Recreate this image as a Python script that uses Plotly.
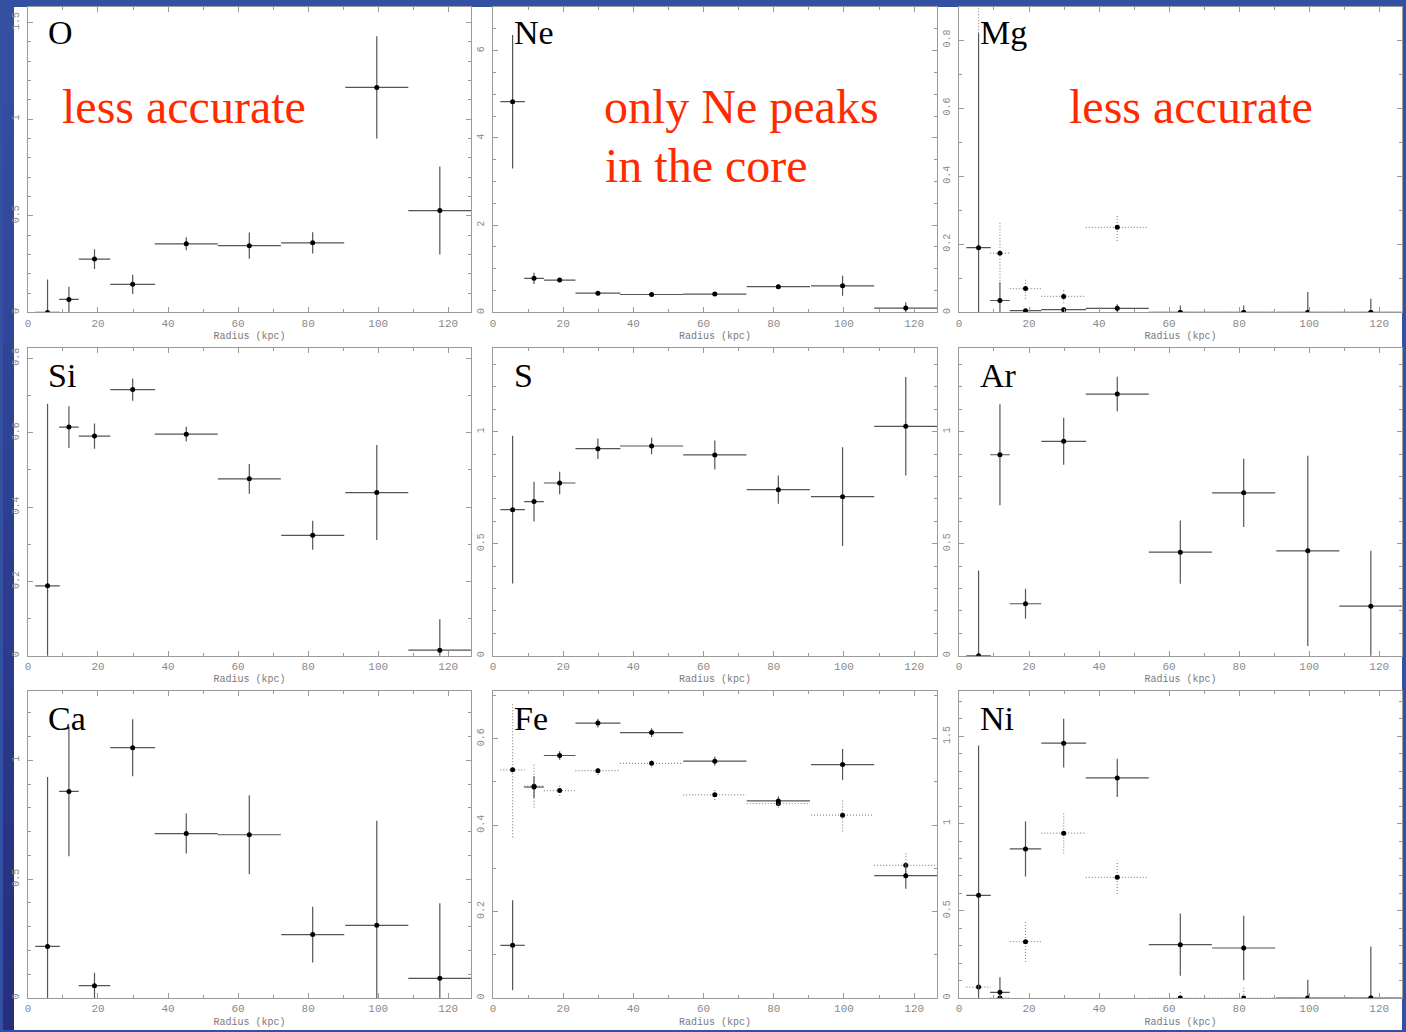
import plotly.graph_objects as go

# ---------------- data ----------------
radius = [5.6, 11.7, 19.0, 29.9, 45.2, 63.2, 81.3, 99.6, 117.6]
radius_halfwidth = [3.5, 2.8, 4.5, 6.4, 9.0, 9.0, 9.0, 9.0, 9.0]

O_val = [0.0, 0.067, 0.276, 0.145, 0.355, 0.345, 0.36, 1.164, 0.527]
O_err = [0.17, 0.066, 0.051, 0.05, 0.034, 0.068, 0.055, 0.265, 0.228]

Ne_val = [4.83, 0.78, 0.74, 0.44, 0.41, 0.42, 0.59, 0.61, 0.10]
Ne_err = [1.53, 0.13, 0.05, 0.04, 0.03, 0.04, 0.05, 0.23, 0.13]

Mg_val = [0.19, 0.035, 0.005, 0.008, 0.012, 0.0, 0.0, 0.0, 0.0]
Mg_err = [0.63, 0.053, 0.005, 0.008, 0.012, 0.02, 0.02, 0.06, 0.04]
Mg_alt_val = [1.30, 0.174, 0.07, 0.047, 0.25, 0.0, 0.0, 0.0, 0.0]
Mg_alt_err = [0.48, 0.09, 0.03, 0.02, 0.04, 0.0, 0.0, 0.0, 0.0]

Si_val = [0.188, 0.615, 0.591, 0.716, 0.596, 0.476, 0.324, 0.439, 0.015]
Si_err = [0.49, 0.056, 0.034, 0.03, 0.02, 0.04, 0.039, 0.128, 0.083]

S_val = [0.652, 0.688, 0.771, 0.924, 0.936, 0.896, 0.741, 0.710, 1.024]
S_err = [0.33, 0.089, 0.05, 0.046, 0.037, 0.065, 0.063, 0.22, 0.22]

Ar_val = [0.0, 0.897, 0.232, 0.957, 1.168, 0.462, 0.727, 0.468, 0.221]
Ar_err = [0.38, 0.225, 0.067, 0.105, 0.077, 0.141, 0.152, 0.425, 0.247]

Ca_val = [0.217, 0.869, 0.052, 1.053, 0.692, 0.687, 0.267, 0.306, 0.083]
Ca_err = [0.713, 0.273, 0.054, 0.12, 0.084, 0.166, 0.117, 0.44, 0.316]

Fe_val = [0.122, 0.488, 0.561, 0.636, 0.614, 0.548, 0.456, 0.540, 0.283]
Fe_err = [0.104, 0.025, 0.01, 0.01, 0.01, 0.01, 0.01, 0.036, 0.03]
Fe_alt_val = [0.528, 0.49, 0.480, 0.526, 0.543, 0.470, 0.450, 0.423, 0.307]
Fe_alt_err = [0.156, 0.05, 0.012, 0.01, 0.01, 0.012, 0.01, 0.038, 0.03]

Ni_val = [0.589, 0.033, 0.855, 1.461, 1.262, 0.306, 0.287, 0.0, 0.0]
Ni_err = [0.858, 0.086, 0.158, 0.14, 0.11, 0.178, 0.185, 0.105, 0.296]
Ni_alt_val = [0.063, 0.0, 0.323, 0.945, 0.692, 0.0, 0.0, 0.0, 0.0]
Ni_alt_err = [0.02, 0.0, 0.117, 0.117, 0.095, 0.04, 0.067, 0.0, 0.0]

x_ticks = [0, 20, 40, 60, 80, 100, 120]

# panel definitions: name, solid series, dotted series, y max, y major dtick, y minor dtick
panels = [
    ("O", (O_val, O_err), None, 1.58, 0.5, 0.1),
    ("Ne", (Ne_val, Ne_err), None, 7.0, 2, 0.5),
    ("Mg", (Mg_val, Mg_err), (Mg_alt_val, Mg_alt_err), 0.897, 0.2, 0.1),
    ("Si", (Si_val, Si_err), None, 0.827, 0.2, 0.1),
    ("S", (S_val, S_err), None, 1.372, 0.5, 0.1),
    ("Ar", (Ar_val, Ar_err), None, 1.372, 0.5, 0.1),
    ("Ca", (Ca_val, Ca_err), None, 1.293, 0.5, 0.1),
    ("Fe", (Fe_val, Fe_err), (Fe_alt_val, Fe_alt_err), 0.711, 0.2, 0.1),
    ("Ni", (Ni_val, Ni_err), (Ni_alt_val, Ni_alt_err), 1.762, 0.5, 0.1),
]

# ---------------- layout geometry (pixels) ----------------
W, H = 1406, 1032
col_px = [(25, 469), (491, 936), (958, 1402)]
row_px = [(7, 313), (349, 657), (692, 1000)]


def cross_segments(xc, xh, yv, ye):
    xs, ys = [], []
    for x, h, y, e in zip(xc, xh, yv, ye):
        xs += [x - h, x + h, None, x, x, None]
        ys += [y, y, None, y - e, y + e, None]
    return xs, ys


fig = go.Figure()
layout = {}
tick_font = dict(family="Liberation Mono, Courier New, monospace", size=11, color="#8a8a8a")

for i, (name, solid, dotted, ymax, ydt, ymin_dt) in enumerate(panels):
    r, c = divmod(i, 3)
    sid = "" if i == 0 else str(i + 1)
    xa, ya = "x" + sid, "y" + sid
    x0, x1 = col_px[c]
    yt, yb = row_px[r]
    layout["xaxis" + sid] = dict(
        domain=[x0 / W, x1 / W], anchor=ya, range=[0, 126.5],
        tickvals=x_ticks, ticks="inside", ticklen=5, tickcolor="#9a9a9a",
        minor=dict(ticks="inside", ticklen=3, dtick=10, tickcolor="#9a9a9a"),
        showline=True, linecolor="#9a9a9a", linewidth=1, mirror="ticks",
        showgrid=False, zeroline=False, tickfont=tick_font,
        title=dict(text="Radius (kpc)", standoff=3,
                   font=dict(family="Liberation Mono, Courier New, monospace", size=10, color="#7a7a7a")),
    )
    layout["yaxis" + sid] = dict(
        domain=[1 - yb / H, 1 - yt / H], anchor=xa, range=[0, ymax],
        dtick=ydt, tick0=0, ticks="inside", ticklen=5, tickcolor="#9a9a9a",
        minor=dict(ticks="inside", ticklen=3, dtick=ymin_dt, tickcolor="#9a9a9a"),
        showline=True, linecolor="#9a9a9a", linewidth=1, mirror="ticks",
        showgrid=False, zeroline=False, tickfont=dict(tick_font, size=10),
        tickangle=-90, ticklabelstandoff=4,
    )

    for series, dash, lcolor in ((dotted, "1px,2px", "#8c8c8c"), (solid, "solid", "#555555")):
        if series is None:
            continue
        vals, errs = series
        sx, sy = cross_segments(radius, radius_halfwidth, vals, errs)
        fig.add_trace(go.Scatter(x=sx, y=sy, mode="lines", xaxis=xa, yaxis=ya,
                                 line=dict(color=lcolor, width=1.2, dash=dash),
                                 hoverinfo="skip", showlegend=False))
        fig.add_trace(go.Scatter(x=radius, y=vals, mode="markers", xaxis=xa, yaxis=ya,
                                 marker=dict(color="black", size=5),
                                 showlegend=False, name=name))

    # element label
    label_centers_y = [33, 376.5, 720]
    label_left = [43, 510, 977]
    fig.add_annotation(text=name, xref="paper", yref="paper",
                       x=label_left[c] / W, y=1 - label_centers_y[r] / H,
                       xanchor="left", yanchor="middle", showarrow=False,
                       font=dict(family="Liberation Serif, Times New Roman, serif", size=34, color="black"))

# red comments
red = "#ff2a00"
comments = [
    ("less accurate", 57, 107),
    ("only Ne peaks", 600, 107),
    ("in the core", 601, 166),
    ("less accurate", 1066, 107),
]
for txt, px, py in comments:
    fig.add_annotation(text=txt, xref="paper", yref="paper", x=px / W, y=1 - py / H,
                       xanchor="left", yanchor="middle", showarrow=False,
                       font=dict(family="Liberation Serif, Times New Roman, serif", size=48, color=red))

# background: blue slide with white panel area
shapes = []
shapes.append(dict(type="rect", xref="paper", yref="paper", x0=11 / W, x1=1402 / W,
                   y0=0, y1=1 - 7 / H, fillcolor="white", line=dict(width=0), layer="below"))
top_rgb = (53, 80, 163)
bot_rgb = (38, 46, 125)
nb = 30
for k in range(nb):
    t = k / (nb - 1)
    col = tuple(int(round(top_rgb[j] + (bot_rgb[j] - top_rgb[j]) * t)) for j in range(3))
    shapes.append(dict(type="rect", xref="paper", yref="paper", x0=0, x1=11 / W,
                       y0=1 - (k + 1) / nb, y1=1 - k / nb,
                       fillcolor="rgb(%d,%d,%d)" % col, line=dict(width=0), layer="below"))

fig.update_layout(
    width=W, height=H, margin=dict(l=0, r=0, t=0, b=0),
    paper_bgcolor="rgb(52,80,162)", plot_bgcolor="white",
    shapes=shapes, showlegend=False, **layout,
)

fig.write_html("out.html")
